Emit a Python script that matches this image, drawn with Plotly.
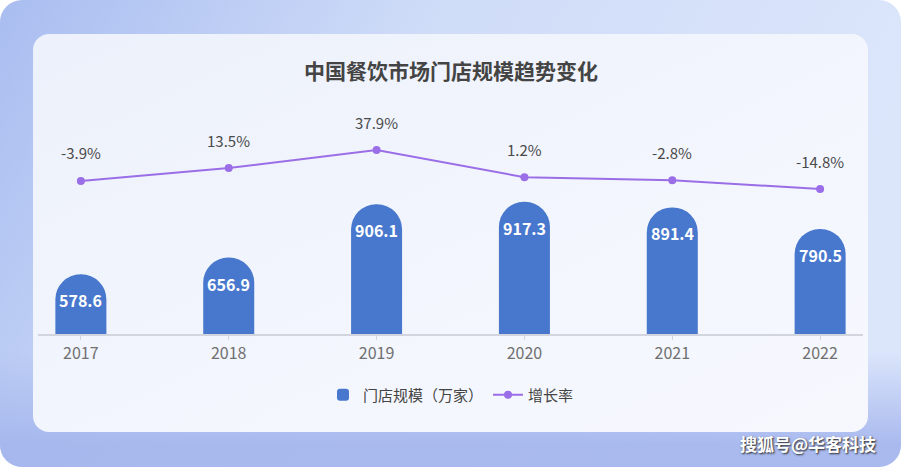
import base64
import plotly.graph_objects as go

# ---- data ----
years = ["2017", "2018", "2019", "2020", "2021", "2022"]
stores = [578.6, 656.9, 906.1, 917.3, 891.4, 790.5]          # 门店规模（万家）
growth = [-3.9, 13.5, 37.9, 1.2, -2.8, -14.8]               # 增长率 %
title_text = "中国餐饮市场门店规模趋势变化"
bar_name = "门店规模（万家）"
line_name = "增长率"
watermark = "搜狐号@华客科技"

W, H = 901, 467
ML, MR, MT, MB = 38, 38, 100, 133
PW, PH = W - ML - MR, H - MT - MB

FONT = "Noto Sans CJK SC, Noto Sans, sans-serif"
BAR_C = "#4878cd"
LINE_C = "#9a6ee6"

# background (gradient page + rounded card) as inline SVG
svg = f'''<svg xmlns="http://www.w3.org/2000/svg" width="{W}" height="{H}" viewBox="0 0 {W} {H}">
<defs>
<linearGradient id="g1" x1="0" y1="0" x2="1" y2="0.3">
<stop offset="0" stop-color="#a9bdf0"/><stop offset="0.45" stop-color="#cfdcf8"/><stop offset="1" stop-color="#dce6fb"/>
</linearGradient>
<linearGradient id="g2" x1="0" y1="0" x2="0" y2="1">
<stop offset="0.75" stop-color="#a4b5ed" stop-opacity="0"/><stop offset="0.95" stop-color="#a4b5ed" stop-opacity="0.9"/>
</linearGradient>
<linearGradient id="g3" x1="0" y1="0" x2="1" y2="1">
<stop offset="0" stop-color="#edf1fb"/><stop offset="0.6" stop-color="#f3f6fd"/><stop offset="1" stop-color="#f6f8fe"/>
</linearGradient>
</defs>
<rect x="0" y="0" width="{W}" height="{H}" rx="22" fill="url(#g1)"/>
<rect x="0" y="0" width="{W}" height="{H}" rx="22" fill="url(#g2)"/>
<rect x="33" y="34" width="835" height="398" rx="16" fill="url(#g3)"/>
</svg>'''
src = "data:image/svg+xml;base64," + base64.b64encode(svg.encode()).decode()

fig = go.Figure()
fig.add_trace(go.Bar(
    x=years, y=stores, name=bar_name, marker=dict(color=BAR_C, line=dict(width=0)),
    width=0.345, hoverinfo="skip",
))
fig.add_trace(go.Scatter(
    x=years, y=growth, name=line_name, yaxis="y2", mode="lines+markers",
    line=dict(color=LINE_C, width=2), marker=dict(color=LINE_C, size=8),
    hoverinfo="skip",
))

ann = []
for i, v in enumerate(stores):
    ann.append(dict(x=i, y=v, xref="x", yref="y", text=f"{v}", showarrow=False,
                    yshift=-26, font=dict(family=FONT, size=16, color="white", weight="bold")))
for i, g in enumerate(growth):
    ann.append(dict(x=i, y=g, xref="x", yref="y2", text=f"{g}%", showarrow=False,
                    yshift=28, font=dict(family=FONT, size=15, color="#4a4a4a")))
ann.append(dict(x=(451 - ML) / PW, y=(MT + PH - 70) / PH, xref="paper", yref="paper",
                xanchor="center", yanchor="middle",
                text=title_text, showarrow=False,
                font=dict(family=FONT, size=21, color="#444444", weight="bold")))
ann.append(dict(x=(808 - ML) / PW, y=(MT + PH - 443) / PH, xref="paper", yref="paper",
                xanchor="center", yanchor="middle",
                text=watermark, showarrow=False,
                font=dict(family=FONT, size=17, color="white", weight="bold",
                          shadow="1px 1px 2px #222")))

hidden = dict(showticklabels=False, showgrid=False, zeroline=False, showline=False,
              ticks="", fixedrange=True)

fig.update_layout(
    width=W, height=H,
    margin=dict(l=ML, r=MR, t=MT, b=MB, pad=0),
    paper_bgcolor="rgba(0,0,0,0)", plot_bgcolor="rgba(0,0,0,0)",
    barcornerradius="50%",
    showlegend=True,
    legend=dict(orientation="h", x=(451 - ML) / PW, xanchor="center",
                y=-(395 - (MT + PH)) / PH, yanchor="middle",
                font=dict(family=FONT, size=15, color="#444444"),
                bgcolor="rgba(0,0,0,0)", itemwidth=30),
    xaxis=dict(type="category", range=[-0.29, 5.29], showgrid=False,
               showline=True, linecolor="#d2d5de", linewidth=2,
               ticks="outside", ticklen=4, tickcolor="#d2d5de",
               tickfont=dict(family=FONT, size=16, color="#707070"), fixedrange=True),
    yaxis=dict(range=[300, 1393], **hidden),
    yaxis2=dict(range=[-210.7, 105.5], overlaying="y", side="right", **hidden),
    annotations=ann,
    images=[dict(source=src, xref="paper", yref="paper",
                 x=-ML / PW, y=(MT + PH) / PH, sizex=W / PW, sizey=H / PH,
                 xanchor="left", yanchor="top", sizing="stretch", layer="below")],
)

fig.write_html("out.html", config={"displayModeBar": False, "staticPlot": True},
               post_script="document.body.style.margin='0';document.body.style.overflow='hidden';")
